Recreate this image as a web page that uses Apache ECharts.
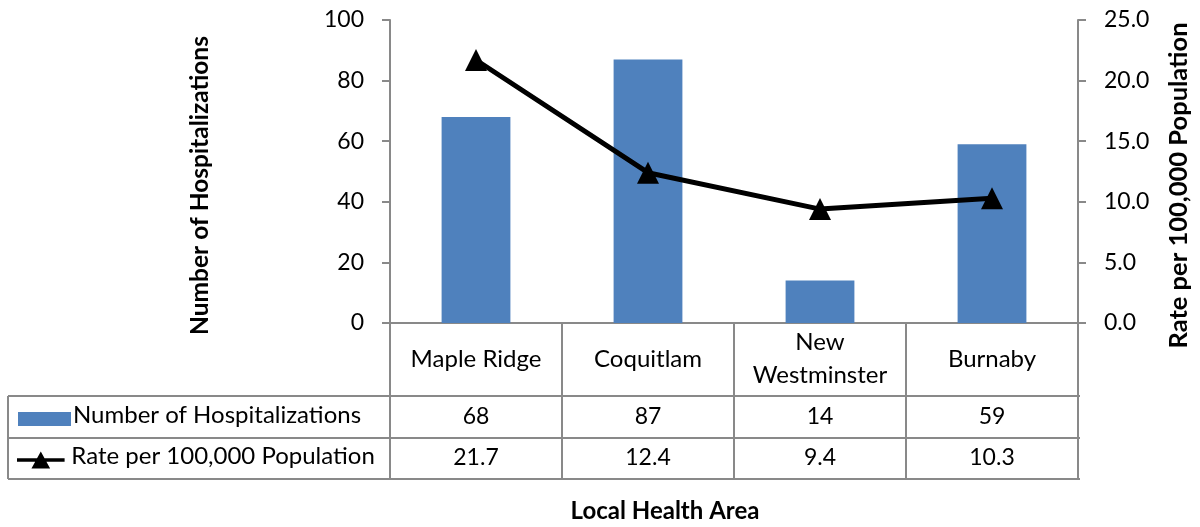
<!DOCTYPE html>
<html>
<head>
<meta charset="utf-8">
<script src="https://cdn.jsdelivr.net/npm/echarts@6/dist/echarts.min.js"></script>
<style>
  html, body { margin: 0; padding: 0; background: #fff; }
  #chart { width: 1200px; height: 527px; }
</style>
</head>
<body>
<div id="chart"></div>
<script>
var categories = ['Maple Ridge', 'Coquitlam', 'New\nWestminster', 'Burnaby'];
var hospitalizations = [68, 87, 14, 59];
var ratePer100k = [21.7, 12.4, 9.4, 10.3];
var leftTicks = [0, 100, 20];   // min, max, interval
var rightTicks = [0, 25, 5];

var FONT = 'Lato';
var GRAY = '#898989';
var TXT = 24, NUM = 23;

var chart = echarts.init(document.getElementById('chart'));

var gridLeft = 390, gridRight = 120, gridTop = 20, gridBottom = 204;
var row1 = 396, row2 = 438, row3 = 479;

function tableLine(x1, y1, x2, y2) {
    return {
        type: 'line',
        shape: {x1: x1, y1: y1, x2: x2, y2: y2},
        style: {stroke: GRAY, lineWidth: 2}
    };
}

// legend text, nudged up a little inside its box
var legendText = {
    fontFamily: FONT, fontSize: TXT, color: '#000',
    rich: {t: {fontFamily: FONT, fontSize: TXT, color: '#000', padding: [0, 0, 8, 0]}}
};

// legend icon for the line series: thick line with a triangle in the middle
var lineIcon = 'path://M0,8 L23.6,8 L28,0 L32.4,8 L56,8 L56,12 L34.6,12 L39,20 L17,20 L21.4,12 L0,12 Z';

chart.setOption({
    animation: false,
    textStyle: {fontFamily: FONT},
    grid: {left: gridLeft, right: gridRight, top: gridTop, bottom: gridBottom},
    legend: [{
        left: 13,
        top: 398,
        itemWidth: 53,
        itemHeight: 14,
        icon: 'rect',
        formatter: '{t|{name}}',
        textStyle: Object.assign({padding: [0, 0, 0, -3]}, legendText),
        data: ['Number of Hospitalizations']
    }, {
        left: 12,
        top: 439,
        itemWidth: 57,
        itemHeight: 17,
        formatter: '{t|{name}}',
        textStyle: Object.assign({padding: [0, 0, 0, -3]}, legendText),
        data: [{name: 'Rate per 100,000 Population', icon: lineIcon}]
    }],
    xAxis: [{
        type: 'category',
        data: categories,
        axisLine: {lineStyle: {color: GRAY, width: 2}},
        axisTick: {show: true, length: row3 - (527 - gridBottom), lineStyle: {color: GRAY, width: 2}},
        axisLabel: {color: '#000', fontSize: TXT, fontFamily: FONT, margin: 36, verticalAlign: 'middle', lineHeight: 33, interval: 0}
    }, {
        type: 'category',
        position: 'bottom',
        data: hospitalizations.map(String),
        axisLine: {show: false},
        axisTick: {show: false},
        axisLabel: {color: '#000', fontSize: NUM, fontFamily: FONT, margin: 94, verticalAlign: 'middle', interval: 0}
    }, {
        type: 'category',
        position: 'bottom',
        data: ratePer100k.map(function(v) { return v.toFixed(1); }),
        axisLine: {show: false},
        axisTick: {show: false},
        axisLabel: {color: '#000', fontSize: NUM, fontFamily: FONT, margin: 135, verticalAlign: 'middle', interval: 0}
    }],
    yAxis: [{
        type: 'value',
        min: leftTicks[0], max: leftTicks[1], interval: leftTicks[2],
        name: 'Number of Hospitalizations',
        nameLocation: 'middle',
        nameGap: 177,
        nameTextStyle: {fontFamily: FONT, fontSize: 24.5, fontWeight: 'bold', color: '#000', padding: [0, 28, 0, 0]},
        axisLine: {show: true, lineStyle: {color: GRAY, width: 2}},
        axisTick: {show: true, length: 8, lineStyle: {color: GRAY, width: 2}},
        axisLabel: {color: '#000', fontSize: NUM, fontFamily: FONT, margin: 26},
        splitLine: {show: false}
    }, {
        type: 'value',
        min: rightTicks[0], max: rightTicks[1], interval: rightTicks[2],
        name: 'Rate per 100,000 Population',
        nameLocation: 'middle',
        nameGap: 88,
        nameRotate: 90,
        nameTextStyle: {fontFamily: FONT, fontSize: 25.5, fontWeight: 'bold', color: '#000', padding: [0, 28, 0, 0]},
        axisLine: {show: true, lineStyle: {color: GRAY, width: 2}},
        axisTick: {show: true, length: 8, lineStyle: {color: GRAY, width: 2}},
        axisLabel: {color: '#000', fontSize: NUM, fontFamily: FONT, margin: 26,
            formatter: function(v) { return v.toFixed(1); }},
        splitLine: {show: false}
    }],
    series: [{
        name: 'Number of Hospitalizations',
        type: 'bar',
        data: hospitalizations,
        barWidth: '40%',
        itemStyle: {color: '#4F81BD'}
    }, {
        name: 'Rate per 100,000 Population',
        type: 'line',
        yAxisIndex: 1,
        data: ratePer100k,
        symbol: 'triangle',
        symbolSize: 22,
        lineStyle: {color: '#000', width: 5},
        itemStyle: {color: '#000'}
    }],
    graphic: [
        tableLine(8, row1, 1200 - gridRight, row1),
        tableLine(8, row2, 1200 - gridRight, row2),
        tableLine(8, row3, 1200 - gridRight, row3),
        tableLine(8, row1, 8, row3),
        {
            type: 'text',
            x: 665, y: 511,
            style: {text: 'Local Health Area', fontFamily: FONT, fontSize: TXT, fontWeight: 'bold',
                fill: '#000', align: 'center', verticalAlign: 'middle'}
        }
    ]
});
</script>
</body>
</html>
